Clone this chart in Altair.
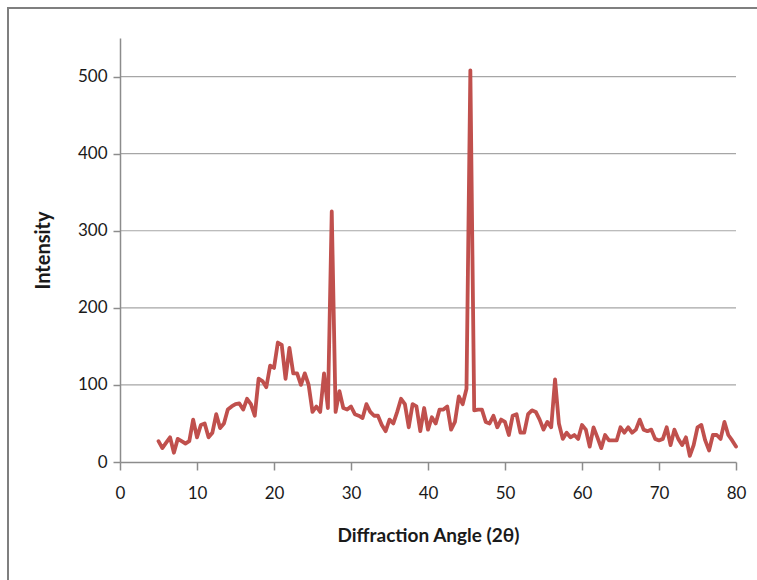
import altair as alt
import pandas as pd

# Diffraction angle (2θ), sampled every 0.5 degrees from 5 to 80
angle = [5 + 0.5 * i for i in range(151)]

intensity = [
    27, 18, 25, 32, 12, 30, 27, 24, 27, 55,   # 5.0 - 9.5
    32, 48, 50, 32, 38, 62, 44, 50, 68, 72,   # 10.0 - 14.5
    75, 76, 68, 82, 75, 60, 108, 105, 97, 125,  # 15.0 - 19.5
    122, 155, 152, 108, 148, 115, 115, 100, 115, 100,  # 20.0 - 24.5
    65, 72, 65, 115, 70, 325, 65, 92, 70, 68,  # 25.0 - 29.5
    72, 62, 60, 57, 75, 65, 60, 60, 48, 40,   # 30.0 - 34.5
    55, 50, 65, 82, 75, 45, 75, 72, 40, 70,   # 35.0 - 39.5
    42, 58, 50, 68, 68, 72, 42, 52, 85, 75,   # 40.0 - 44.5
    95, 508, 67, 68, 68, 52, 50, 60, 45, 55,  # 45.0 - 49.5
    52, 35, 60, 62, 38, 38, 62, 67, 65, 55,   # 50.0 - 54.5
    42, 52, 45, 107, 50, 30, 38, 32, 35, 30,  # 55.0 - 59.5
    48, 42, 20, 45, 32, 18, 35, 28, 28, 28,   # 60.0 - 64.5
    45, 38, 45, 38, 42, 55, 42, 40, 42, 30,   # 65.0 - 69.5
    28, 30, 45, 22, 42, 30, 22, 32, 8, 22,    # 70.0 - 74.5
    45, 48, 28, 15, 35, 35, 30, 52, 35, 28,   # 75.0 - 79.5
    20,                                       # 80.0
]

x_ticks = [0, 10, 20, 30, 40, 50, 60, 70, 80]
y_ticks = [0, 100, 200, 300, 400, 500]
grid_lines = [100, 200, 300, 400, 500]

df = pd.DataFrame({"angle": angle, "intensity": intensity})
grid_df = pd.DataFrame({"g": grid_lines})

FONT = "Lato"
GRID = "#a6a6a6"
AXIS = "#8c8c8c"
TEXT = "#1a1a1a"

x_scale = alt.Scale(domain=[0, 80], nice=False, zero=False)
y_scale = alt.Scale(domain=[0, 550], nice=False)

x_axis = alt.Axis(
    values=x_ticks, title="Diffraction Angle (2θ)", grid=False, zindex=1,
    labelFlush=False, labelOverlap=False,
    domainColor=AXIS, domainWidth=1.5, tickColor=AXIS, tickWidth=1.5, tickSize=8,
    labelFont=FONT, labelFontSize=17, labelColor=TEXT, labelPadding=15,
    titleFont=FONT, titleFontSize=19, titleFontWeight="bold", titleColor=TEXT,
    titlePadding=25,
)
y_axis = alt.Axis(
    values=y_ticks, title="Intensity", grid=False, zindex=1,
    labelFlush=False, labelOverlap=False,
    domainColor=AXIS, domainWidth=1.5, tickColor=AXIS, tickWidth=1.5, tickSize=7,
    labelFont=FONT, labelFontSize=17, labelColor=TEXT, labelPadding=6,
    titleFont=FONT, titleFontSize=20, titleFontWeight="bold", titleColor=TEXT,
    titlePadding=24,
)

# Outer chart frame
frame = alt.Chart(pd.DataFrame({"k": [0]})).mark_rect(
    filled=False, stroke="#7f7f7f", strokeWidth=2
).encode(
    x=alt.value(-112), x2=alt.value(700),
    y=alt.value(-30), y2=alt.value(600),
)

grid = alt.Chart(grid_df).mark_rule(color=GRID, strokeWidth=1.2).encode(
    y=alt.Y("g:Q", scale=y_scale, axis=y_axis),
    x=alt.value(0), x2=alt.value(616),
)

line = alt.Chart(df).mark_line(
    color="#c0504d", strokeWidth=3.8, strokeJoin="round", strokeCap="round"
).encode(
    x=alt.X("angle:Q", scale=x_scale, axis=x_axis),
    y=alt.Y("intensity:Q", scale=y_scale, axis=y_axis),
)

chart = alt.layer(frame, grid, line).properties(
    width=616, height=424,
    background="white",
    autosize=alt.AutoSizeParams(type="none"),
    padding={"left": 120, "top": 38, "right": 21, "bottom": 118},
).configure_view(stroke=None)

chart.save("out.html", embed_options={"renderer": "svg", "actions": False})
